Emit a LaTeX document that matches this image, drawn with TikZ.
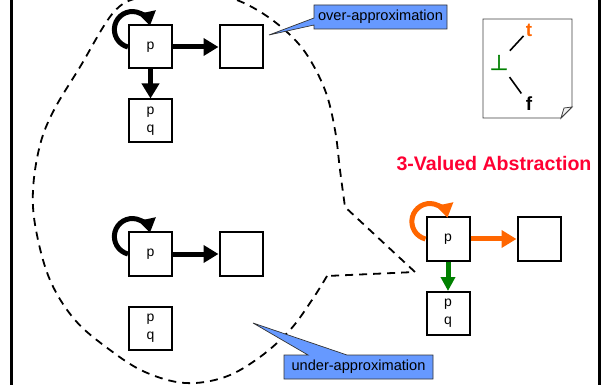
\documentclass[tikz,border=0pt]{standalone}
\usepackage{fontspec}
\setmainfont{Liberation Sans}
\newfontfamily\symbolfont[FakeBold=1.5]{DejaVu Sans}
\usetikzlibrary{arrows.meta}
\definecolor{calloutblue}{RGB}{102,153,255}
\definecolor{absorange}{RGB}{255,102,0}
\definecolor{absgreen}{RGB}{0,128,0}
\definecolor{absred}{RGB}{255,0,51}
\begin{document}
\begin{tikzpicture}[x=1pt,y=-1pt,
  heap/.style={draw, line width=2pt, minimum width=43pt, minimum height=43pt,
    inner sep=0pt, align=center, font=\fontsize{14}{18}\selectfont},
  edge/.style={line width=5pt, -{Triangle[length=15pt,width=17pt]}},
  selfloop/.style={line width=5pt, -{Triangle[length=14pt,width=17pt]}},
  region/.style={line width=1.8pt, dash pattern=on 8pt off 6pt},
  callout/.style={fill=calloutblue, draw=black!80, line width=0.7pt},
  callouttext/.style={font=\fontsize{14.6}{16}\selectfont, inner sep=0pt},
  legendline/.style={line width=1.6pt},
]
\useasboundingbox (0,0) rectangle (603,385);

% side rules
\draw[line width=3pt] (11.5,0) -- (11.5,385);
\draw[line width=2.5pt] (599.5,0) -- (599.5,385);

% dashed region enclosing the concrete structures
\begin{scope}
  \clip (0,0) rectangle (603,385);
  \draw[region] plot[smooth, tension=0.6] coordinates {
    (327,276) (312,300) (290,330) (260,357) (225,377) (185,383) (145,372)
    (110,350) (75,320) (50,280) (36,230) (33,190) (40,145) (54,110) (80,67)
    (113,13) (140,-3) (180,-10) (220,-5) (250,6) (280,26) (305,52) (325,90)
    (335,130) (340,170) (345,207)} -- (415,272) -- cycle;
\end{scope}

% first concrete structure
\node[heap] (A) at (150.5,47) {p};
\node[heap] (B) at (241,47) {};
\node[heap] (C) at (150.5,121) {p\\q};
\draw[selfloop] (A.west) arc[start angle=104, end angle=348, radius=18];
\draw[edge] (A.east) -- (B.west);
\draw[edge] (A.south) -- (C.north);

% second concrete structure
\node[heap] (D) at (150.5,254) {p};
\node[heap] (E) at (241,254) {};
\node[heap] (F) at (150.5,328.5) {p\\q};
\draw[selfloop] (D.west) arc[start angle=104, end angle=348, radius=18];
\draw[edge] (D.east) -- (E.west);

% 3-valued abstraction
\node[font=\fontsize{19.6}{22}\selectfont\bfseries, text=absred] (title) at (494,163.5) {3-Valued Abstraction};
\node[heap] (G) at (448,239) {p};
\node[heap] (H) at (539,239) {};
\node[heap] (I) at (448,313.5) {p\\q};
\draw[selfloop, absorange] (G.west) arc[start angle=104, end angle=348, radius=18];
\draw[edge, absorange] (G.east) -- (H.west);
\draw[edge, absgreen, -{Triangle[length=14pt,width=14pt]}] (G.south) -- (I.north);

% legend sheet with folded corner
\draw[draw=black!75, line width=0.8pt, fill=white]
  (483,19) -- (572,19) -- (572,107) -- (561,118) -- (483,118) -- cycle;
\draw[draw=black!75, line width=0.8pt, fill=black!5]
  (561,118) -- (564,108) -- (572,107) -- cycle;
\node[font=\fontsize{19}{20}\selectfont\bfseries, text=absorange, inner sep=0pt] (t) at (529,30) {t};
\node[font=\symbolfont\fontsize{21}{22}\selectfont, text=absgreen, inner sep=0pt] (bot) at (499,62.5) {⊥};
\node[font=\fontsize{19}{20}\selectfont\bfseries, inner sep=0pt] (f) at (529,104) {f};
\draw[legendline, shorten <=16pt, shorten >=8pt] (bot.center) -- (t.center);
\draw[legendline, shorten <=18pt, shorten >=13pt] (bot.center) -- (f.center);

% callouts
\draw[callout] (314,5) -- (447,5) -- (447,29) -- (314,29) -- (314,25) -- (269,35) -- (314,18) -- cycle;
\node[callouttext] (over) at (380.5,17) {over-approximation};
\draw[callout] (284,355) -- (308,355) -- (253,323) -- (347,355) -- (433,355) -- (433,379) -- (284,379) -- cycle;
\node[callouttext] (under) at (358.5,367) {under-approximation};
\end{tikzpicture}
\end{document}
